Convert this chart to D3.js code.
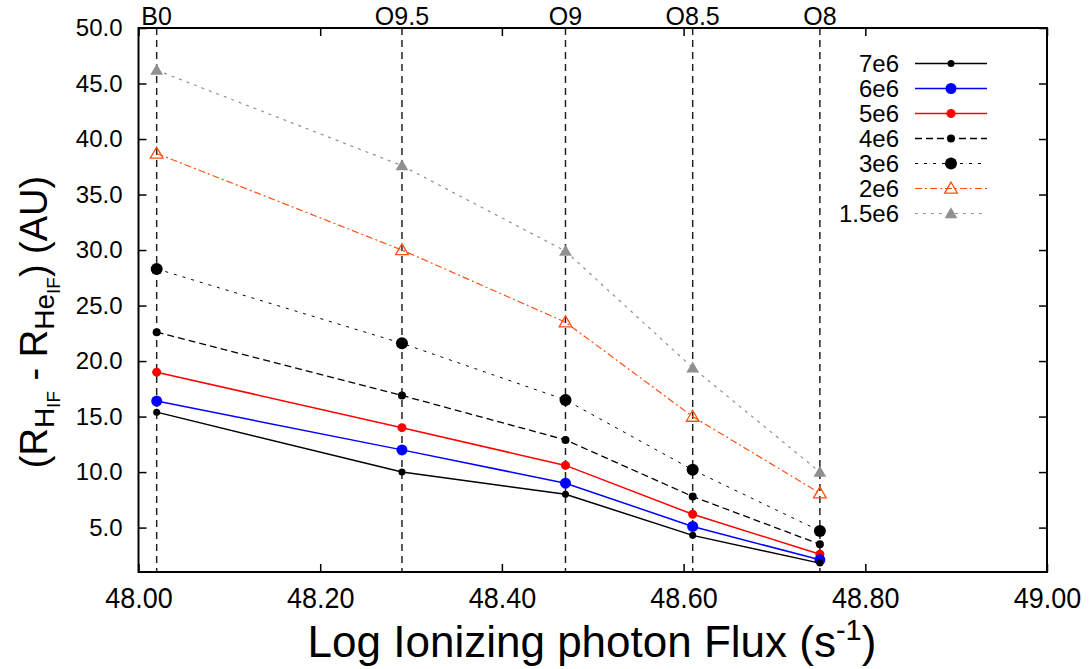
<!DOCTYPE html>
<html>
<head>
<meta charset="utf-8">
<script src="https://cdn.jsdelivr.net/npm/d3@7"></script>
<style>
  body { margin: 0; background: #fff; }
  svg { font-family: "Liberation Sans", Arial, sans-serif; }
</style>
</head>
<body>
<div class="chart"></div>
<script>
// log ionizing photon flux of each spectral type
const fluxes = [48.02, 48.29, 48.47, 48.61, 48.75];
const spectralTypes = ['B0', 'O9.5', 'O9', 'O8.5', 'O8'];

const seriesNames = ['7e6', '6e6', '5e6', '4e6', '3e6', '2e6', '1.5e6'];
const s7e6 = [15.4, 10.0, 8.0, 4.3, 1.8];
const s6e6 = [16.4, 12.0, 9.0, 5.1, 2.1];
const s5e6 = [19.0, 14.0, 10.6, 6.2, 2.6];
const s4e6 = [22.6, 16.9, 12.9, 7.8, 3.5];
const s3e6 = [28.3, 21.6, 16.5, 10.2, 4.7];
const s2e6 = [38.7, 30.0, 23.5, 15.0, 8.1];
const s15e6 = [46.2, 37.6, 29.9, 19.4, 10.0];

const xTicks = [48.0, 48.2, 48.4, 48.6, 48.8, 49.0];
const yTicks = [5, 10, 15, 20, 25, 30, 35, 40, 45, 50];

// styles
const styles = [
    { color: '#000', dash: null, width: 1.5, mark: 'circle', r: 3.5 },
    { color: '#0000ff', dash: null, width: 1.5, mark: 'circle', r: 5.5 },
    { color: '#ff0000', dash: null, width: 1.5, mark: 'circle', r: 4.5 },
    { color: '#000', dash: '7,4', width: 1.3, mark: 'circle', r: 4 },
    { color: '#000', dash: '3,6', width: 1, mark: 'circle', r: 6 },
    { color: '#ff5014', dash: '7,3,2,3', width: 1.2, mark: 'tri-open', r: 6 },
    { color: '#909090', dash: '3,5', width: 1.2, mark: 'tri', r: 6 }
];
const allSeries = [s7e6, s6e6, s5e6, s4e6, s3e6, s2e6, s15e6];

const width = 1089, height = 669;
const margin = { left: 138.5, right: 42, top: 28, bottom: 97 };

const svg = d3.select('.chart').append('svg')
    .attr('width', width)
    .attr('height', height);

const xScale = d3.scaleLinear().domain([48, 49]).range([margin.left, width - margin.right]);
const yScale = d3.scaleLinear().domain([1, 50]).range([height - margin.bottom, margin.top]);

const plotTop = margin.top, plotBottom = height - margin.bottom;

// axes, ticks point inward
svg.append('g')
    .attr('transform', `translate(0,${plotBottom})`)
    .call(d3.axisBottom(xScale).tickValues(xTicks).tickFormat(d3.format('.2f')).tickSizeInner(-8).tickSizeOuter(0).tickPadding(15))
    .call(g => g.select('.domain').remove())
    .call(g => g.selectAll('line').attr('stroke-width', 1.5))
    .call(g => g.selectAll('text').attr('font-size', 29).attr('transform', 'scale(0.93,1)').attr('fill', '#000').attr('font-family', '"Liberation Sans", Arial, sans-serif'));

svg.append('g')
    .attr('transform', `translate(0,${plotTop})`)
    .call(d3.axisTop(xScale).tickValues(xTicks).tickFormat('').tickSizeInner(-8).tickSizeOuter(0))
    .call(g => g.select('.domain').remove())
    .call(g => g.selectAll('line').attr('stroke-width', 1.5));

svg.append('g')
    .attr('transform', `translate(${margin.left},0)`)
    .call(d3.axisLeft(yScale).tickValues(yTicks).tickFormat(d3.format('.1f')).tickSizeInner(-8).tickSizeOuter(0).tickPadding(16))
    .call(g => g.select('.domain').remove())
    .call(g => g.selectAll('line').attr('stroke-width', 1.5))
    .call(g => g.selectAll('text').attr('font-size', 24).attr('fill', '#000').attr('font-family', '"Liberation Sans", Arial, sans-serif'));

svg.append('g')
    .attr('transform', `translate(${width - margin.right},0)`)
    .call(d3.axisRight(yScale).tickValues(yTicks).tickFormat('').tickSizeInner(-8).tickSizeOuter(0))
    .call(g => g.select('.domain').remove())
    .call(g => g.selectAll('line').attr('stroke-width', 1.5));

// spectral type guide lines
svg.append('g').selectAll('line')
    .data(fluxes)
    .enter()
    .append('line')
    .attr('x1', d => xScale(d))
    .attr('x2', d => xScale(d))
    .attr('y1', plotTop)
    .attr('y2', plotBottom)
    .attr('stroke', '#222')
    .attr('stroke-width', 1.5)
    .attr('stroke-dasharray', '7,5');

svg.append('g').selectAll('text')
    .data(spectralTypes)
    .enter()
    .append('text')
    .attr('x', (d, i) => xScale(fluxes[i]))
    .attr('y', plotTop - 3)
    .attr('text-anchor', 'middle')
    .attr('font-size', 25)
    .text(d => d);

// frame
svg.append('rect')
    .attr('x', margin.left)
    .attr('y', plotTop)
    .attr('width', xScale(49) - margin.left)
    .attr('height', plotBottom - plotTop)
    .attr('fill', 'none')
    .attr('stroke', '#000')
    .attr('stroke-width', 2);

const tri = d3.symbol().type(d3.symbolTriangle).size(70);

function drawMark(g, st, x, y) {
    if (st.mark === 'circle') {
        g.append('circle').attr('cx', x).attr('cy', y).attr('r', st.r).attr('fill', st.color);
    } else {
        g.append('path')
            .attr('d', tri)
            .attr('transform', `translate(${x},${y + 1})`)
            .attr('fill', st.mark === 'tri' ? st.color : '#fff')
            .attr('fill-opacity', st.mark === 'tri' ? 1 : 0)
            .attr('stroke', st.color)
            .attr('stroke-width', st.mark === 'tri' ? 0 : 1.3);
    }
}

const line = d3.line()
    .x((d, i) => xScale(fluxes[i]))
    .y(d => yScale(d));

// draw from back to front
for (let k = allSeries.length - 1; k >= 0; k--) {
    const st = styles[k];
    const g = svg.append('g');
    g.append('path')
        .datum(allSeries[k])
        .attr('d', line)
        .attr('fill', 'none')
        .attr('stroke', st.color)
        .attr('stroke-width', st.width)
        .attr('stroke-dasharray', st.dash);
    allSeries[k].forEach((v, i) => drawMark(g, st, xScale(fluxes[i]), yScale(v)));
}

// legend
const legend = svg.append('g');
seriesNames.forEach((name, k) => {
    const st = styles[k];
    const y = 63.5 + k * 25;
    legend.append('text')
        .attr('x', 899)
        .attr('y', y)
        .attr('dy', '0.35em')
        .attr('text-anchor', 'end')
        .attr('font-size', 24)
        .text(name);
    legend.append('line')
        .attr('x1', 915).attr('x2', 987)
        .attr('y1', y).attr('y2', y)
        .attr('stroke', st.color)
        .attr('stroke-width', st.width)
        .attr('stroke-dasharray', st.dash);
    drawMark(legend, st, 951, y);
});

// axis titles
svg.append('text')
    .attr('x', 592)
    .attr('y', 657)
    .attr('text-anchor', 'middle')
    .attr('font-size', 44)
    .call(t => {
        t.append('tspan').text('Log Ionizing photon Flux (s');
        t.append('tspan').attr('font-size', 29).attr('dy', -17).text('-1');
        t.append('tspan').attr('dy', 17).text(')');
    });

const yTitle = svg.append('text')
    .attr('transform', 'translate(47,322) rotate(-90)')
    .attr('text-anchor', 'middle')
    .attr('font-size', 38);
yTitle.append('tspan').text('(R');
yTitle.append('tspan').attr('font-size', 28).attr('dy', 7).text('H');
yTitle.append('tspan').attr('font-size', 19).attr('dy', 6).text('IF');
yTitle.append('tspan').attr('dy', -13).text(' - R');
yTitle.append('tspan').attr('font-size', 28).attr('dy', 7).text('He');
yTitle.append('tspan').attr('font-size', 19).attr('dy', 6).text('IF');
yTitle.append('tspan').attr('dy', -13).text(') (AU)');
</script>
</body>
</html>
